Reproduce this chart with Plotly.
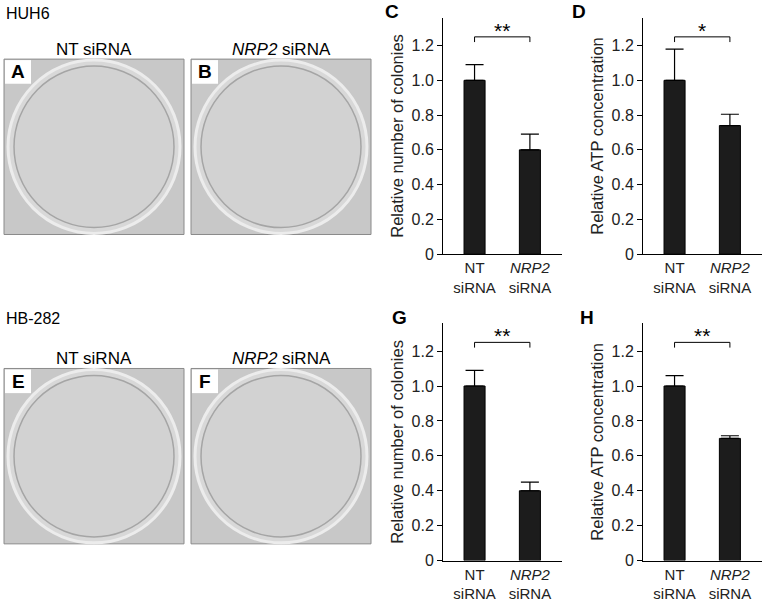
import plotly.graph_objects as go

W, H = 765, 610

# bar chart data
groups = ["NT<br>siRNA", "<i>NRP2</i><br>siRNA"]
colonies_huh6 = [1.0, 0.60]
colonies_huh6_err = [0.09, 0.09]
atp_huh6 = [1.0, 0.74]
atp_huh6_err = [0.18, 0.065]
colonies_hb282 = [1.0, 0.40]
colonies_hb282_err = [0.09, 0.05]
atp_hb282 = [1.0, 0.70]
atp_hb282_err = [0.06, 0.015]
signif = ["**", "*", "**", "**"]
bracket_y = [1.25, 1.25, 1.25, 1.25]

ytick_vals = [0, 0.2, 0.4, 0.6, 0.8, 1.0, 1.2]
ytick_text = ["0", "0.2", "0.4", "0.6", "0.8", "1.0", "1.2"]

font = "Liberation Sans, Arial, sans-serif"


def px(x):
    return x / W


def py(y):
    return 1 - y / H


fig = go.Figure()
shapes = []
annotations = []

# bar panels: (label, label x, values, errors, ytitle, left px, top px, bottom px)
panels = [
    ("C", 383, colonies_huh6, colonies_huh6_err, "Relative number of colonies", 443, 18, 258),
    ("D", 570, atp_huh6, atp_huh6_err, "Relative ATP concentration", 643, 18, 258),
    ("G", 390, colonies_hb282, colonies_hb282_err, "Relative number of colonies", 443, 328, 569),
    ("H", 578, atp_hb282, atp_hb282_err, "Relative ATP concentration", 643, 328, 569),
]

for i, (lab, labx, vals, errs, ytitle, left, top, bottom) in enumerate(panels):
    n = i + 1
    xa = "x" if n == 1 else "x%d" % n
    ya = "y" if n == 1 else "y%d" % n
    fig.add_trace(go.Bar(
        x=[0, 1], y=vals, width=0.38,
        marker=dict(color="#1c1c1c", line=dict(color="#000", width=1)),
        error_y=dict(type="data", symmetric=False, array=errs, arrayminus=[0, 0],
                     color="#000", thickness=1.2, width=9),
        xaxis=xa, yaxis=ya, showlegend=False, hoverinfo="skip",
    ))
    fig.layout["xaxis" if n == 1 else "xaxis%d" % n] = dict(
        domain=[px(left), px(left + 119)], range=[-0.57, 1.58],
        tickvals=[0, 1], ticktext=groups, ticks="", showline=True,
        linecolor="#000", linewidth=1, showgrid=False, zeroline=False,
        anchor=ya, tickfont=dict(size=15, color="#222", family=font),
        fixedrange=True,
    )
    fig.layout["yaxis" if n == 1 else "yaxis%d" % n] = dict(
        domain=[py(bottom), py(top)], range=[0, 1.36],
        tickvals=ytick_vals, ticktext=ytick_text, ticks="outside", ticklen=5,
        tickcolor="#000", showline=True, linecolor="#000", linewidth=1,
        showgrid=False, zeroline=False, anchor=xa, fixedrange=True,
        tickfont=dict(size=16, color="#222", family=font),
        title=dict(text=ytitle, font=dict(size=16.5, color="#222", family=font), standoff=3),
    )
    # significance bracket
    by = bracket_y[i]
    for x0, y0, x1, y1 in [(0, by, 1, by), (0, by, 0, by - 0.03), (1, by, 1, by - 0.03)]:
        shapes.append(dict(type="line", xref=xa, yref=ya, x0=x0, y0=y0, x1=x1, y1=y1,
                           line=dict(color="#000", width=1)))
    annotations.append(dict(x=0.5, y=by, xref=xa, yref=ya, text=signif[i], showarrow=False,
                            yanchor="bottom", yshift=-7,
                            font=dict(size=21, color="#000", family=font)))
    annotations.append(dict(x=px(labx), y=py(top - 6), xref="paper", yref="paper",
                            text="<b>%s</b>" % lab, showarrow=False,
                            xanchor="left", yanchor="middle",
                            font=dict(size=19, color="#000", family=font)))

# dish photo panels (drawn as simple plates)
dishes = [("A", "NT siRNA", 4, 60), ("B", "<i>NRP2</i> siRNA", 191, 60),
          ("E", "NT siRNA", 4, 374), ("F", "<i>NRP2</i> siRNA", 191, 374)]
for lab, title, x0, y0 in dishes:
    x1, y1 = x0 + 180, y0 + 178
    shapes.append(dict(type="rect", xref="paper", yref="paper", x0=px(x0), y0=py(y1),
                       x1=px(x1), y1=py(y0), fillcolor="#c8c8c8",
                       line=dict(color="#8a8a8a", width=1), layer="below"))
    shapes.append(dict(type="circle", xref="paper", yref="paper", x0=px(x0 + 4), y0=py(y1 - 1),
                       x1=px(x1 - 4), y1=py(y0 + 1), fillcolor="#d8d8d8",
                       line=dict(color="#ececec", width=3), layer="below"))
    shapes.append(dict(type="circle", xref="paper", yref="paper", x0=px(x0 + 10), y0=py(y1 - 7),
                       x1=px(x1 - 10), y1=py(y0 + 7), fillcolor="#d2d2d2",
                       line=dict(color="#a5a5a5", width=1.5), layer="below"))
    shapes.append(dict(type="rect", xref="paper", yref="paper", x0=px(x0 + 1), y0=py(y0 + 25),
                       x1=px(x0 + 27), y1=py(y0 + 1), fillcolor="#ffffff",
                       line=dict(width=0), layer="below"))
    annotations.append(dict(x=px(x0 + 14), y=py(y0 + 13), xref="paper", yref="paper",
                            text="<b>%s</b>" % lab, showarrow=False,
                            xanchor="center", yanchor="middle",
                            font=dict(size=19, color="#000", family=font)))
    annotations.append(dict(x=px((x0 + x1) / 2), y=py(y0 - 10), xref="paper", yref="paper",
                            text=title, showarrow=False, xanchor="center", yanchor="middle",
                            font=dict(size=17, color="#000", family=font)))

for txt, y in [("HUH6", 14), ("HB-282", 323)]:
    annotations.append(dict(x=px(4), y=py(y), xref="paper", yref="paper", text=txt,
                            showarrow=False, xanchor="left", yanchor="middle",
                            font=dict(size=16, color="#000", family=font)))

fig.update_layout(
    width=W, height=H, margin=dict(l=0, r=0, t=0, b=0),
    paper_bgcolor="white", plot_bgcolor="white",
    shapes=shapes, annotations=annotations, showlegend=False,
    font=dict(family=font),
)

# drop the default page margin so the figure fills the window
fig.write_html("out.html", config={"displayModeBar": False},
               post_script="document.body.style.margin='0';")
